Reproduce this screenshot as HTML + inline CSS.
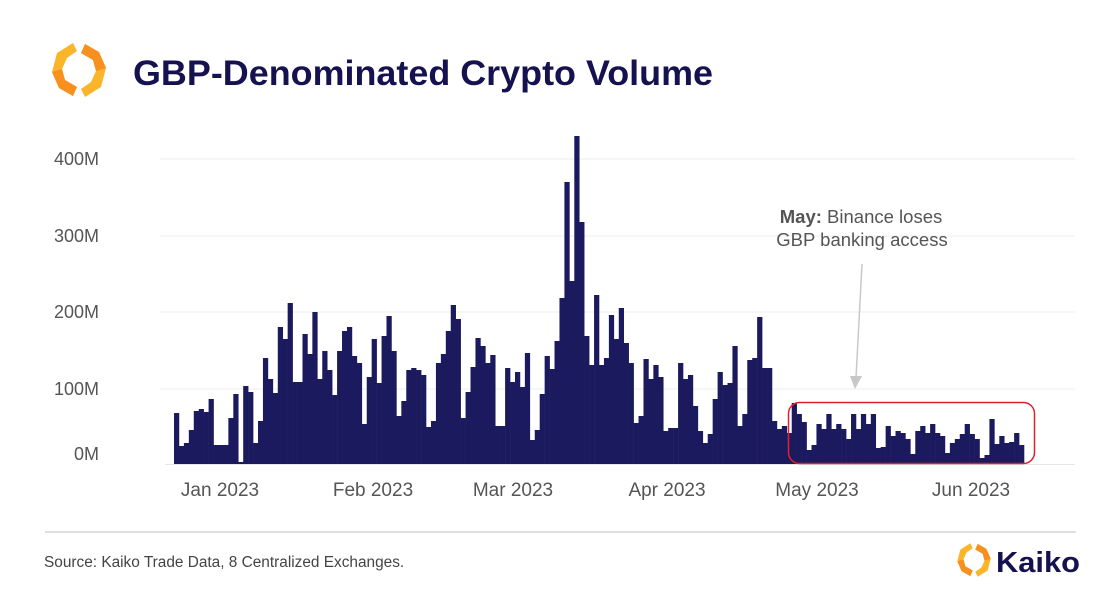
<!DOCTYPE html>
<html><head><meta charset="utf-8"><style>
html,body{margin:0;padding:0;background:#fff;}
body{width:1120px;height:600px;overflow:hidden;font-family:"Liberation Sans",sans-serif;}
</style></head><body>
<svg width="1120" height="600" xmlns="http://www.w3.org/2000/svg" font-family="Liberation Sans, sans-serif">
<rect width="1120" height="600" fill="#fff"/>
<g transform="translate(79,70)">
<polygon points="-6,-27 -22,-17 -27,2 -20,18 -6,26 -2,17 -14,10 -17,-1 -12,-12 -2,-19" fill="#fbb52b"/>
<polygon points="6,27 22,17 27,-2 20,-18 6,-26 2,-17 14,-10 17,1 12,12 2,19" fill="#fbb52b"/>
<polygon points="-27,2 -20,18 -6,26 -2,17 -14,10 -17,-1" fill="#f7901e"/>
<polygon points="27,-2 20,-18 6,-26 2,-17 14,-10 17,1" fill="#f7901e"/>
</g>
<text x="133" y="85" font-size="35" font-weight="bold" fill="#15124f" textLength="580" lengthAdjust="spacingAndGlyphs">GBP-Denominated Crypto Volume</text>
<g stroke="#eeeeee" stroke-width="1">
<line x1="160" x2="1075" y1="159" y2="159"/>
<line x1="160" x2="1075" y1="236" y2="236"/>
<line x1="160" x2="1075" y1="312" y2="312"/>
<line x1="160" x2="1075" y1="389" y2="389"/>
</g>
<g font-size="18" fill="#555" text-anchor="end">
<text x="99" y="165">400M</text>
<text x="99" y="242">300M</text>
<text x="99" y="318">200M</text>
<text x="99" y="395">100M</text>
<text x="99" y="460">0M</text>
</g>
<g id="bars" fill="#1c1a5e"></g>
<line x1="165" x2="1075" y1="464.5" y2="464.5" stroke="#e6e6e6"/>
<g font-size="19" fill="#555" text-anchor="middle">
<text x="220" y="496">Jan 2023</text>
<text x="373" y="496">Feb 2023</text>
<text x="513" y="496">Mar 2023</text>
<text x="667" y="496">Apr 2023</text>
<text x="817" y="496">May 2023</text>
<text x="971" y="496">Jun 2023</text>
</g>
<rect x="788.5" y="402.5" width="246" height="61" rx="11" fill="none" stroke="#e0202a" stroke-width="1.5"/>
<line x1="862" y1="264" x2="856" y2="378" stroke="#c8c8c8" stroke-width="1.5"/>
<polygon points="850,376 862,376 855,389" fill="#c8c8c8"/>
<g font-size="18.5" fill="#555" text-anchor="middle">
<text x="861" y="223"><tspan font-weight="bold">May:</tspan> Binance loses</text>
<text x="862" y="246">GBP banking access</text>
</g>
<line x1="45" x2="1076" y1="532" y2="532" stroke="#cccccc" stroke-width="1.2"/>
<text x="44" y="567" font-size="15.4" fill="#444">Source: Kaiko Trade Data, 8 Centralized Exchanges.</text>
<g transform="translate(974,560) scale(0.62)">
<polygon points="-6,-27 -22,-17 -27,2 -20,18 -6,26 -2,17 -14,10 -17,-1 -12,-12 -2,-19" fill="#fbb52b"/>
<polygon points="6,27 22,17 27,-2 20,-18 6,-26 2,-17 14,-10 17,1 12,12 2,19" fill="#fbb52b"/>
<polygon points="-27,2 -20,18 -6,26 -2,17 -14,10 -17,-1" fill="#f7901e"/>
<polygon points="27,-2 20,-18 6,-26 2,-17 14,-10 17,1" fill="#f7901e"/>
</g>
<text x="996" y="572" font-size="29" font-weight="bold" fill="#15124f" textLength="84" lengthAdjust="spacingAndGlyphs">Kaiko</text>
</svg>
<script>
var tops=[413,446,443,430,411,409,412,399,445,445,445,418,394,462,386,392,443,421,358,379,393,327,339,303,382,382,334,354,312,379,351,370,395,351,331,327,356,363,424,377,339,383,336,316,351,416,401,370,368,370,375,427,421,363,354,331,305,319,418,392,
367,338,346,363,355,426,426,368,382,372,387,353,440,430,394,356,369,341,298,182,281,136,222,336,365,295,365,358,315,339,308,343,363,423,416,359,379,365,377,431,428,428,363,379,375,406,431,443,434,399,372,385,383,346,426,414,360,358,317,368,368,421,429,426,433,
403,414,422,450,445,424,429,414,429,424,429,439,414,429,414,424,414,448,447,426,436,431,433,439,454,431,426,433,424,433,436,453,443,439,434,424,434,439,458,455,419,444,436,443,442,433,445];
var g=document.getElementById('bars'),w=850/tops.length,s='';
for(var i=0;i<tops.length;i++){var x=174+i*w;s+='<rect x="'+x.toFixed(2)+'" y="'+tops[i]+'" width="'+(w+0.3).toFixed(2)+'" height="'+(464-tops[i])+'"/>';}
g.innerHTML=s;
</script>
</body></html>
